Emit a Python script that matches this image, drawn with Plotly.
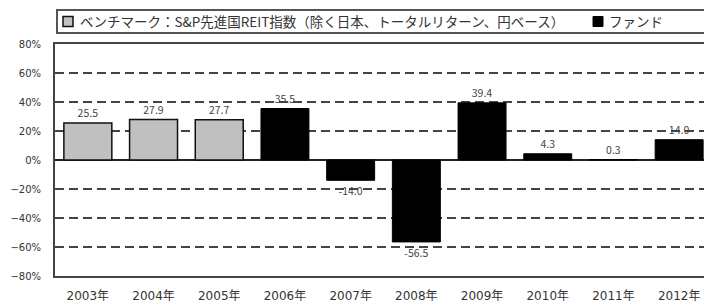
import plotly.graph_objects as go

years = ["2003年", "2004年", "2005年", "2006年", "2007年", "2008年", "2009年", "2010年", "2011年", "2012年"]
bench_years = ["2003年", "2004年", "2005年"]
bench_vals = [25.5, 27.9, 27.7]
fund_years = ["2006年", "2007年", "2008年", "2009年", "2010年", "2011年", "2012年"]
fund_vals = [35.5, -14.0, -56.5, 39.4, 4.3, 0.3, 14.0]
bench_name = "ベンチマーク：S&P先進国REIT指数（除く日本、トータルリターン、円ベース）"
fund_name = "ファンド"

FONT = "Noto Sans CJK JP, Noto Sans, sans-serif"
WIDE = "DejaVu Sans, Noto Sans CJK JP, sans-serif"

fig = go.Figure()
fig.add_trace(go.Bar(
    x=bench_years, y=bench_vals, name=bench_name,
    marker=dict(color="#c0c0c0", line=dict(color="#111111", width=1.5)),
    width=0.73, text=[f"{v:.1f}" for v in bench_vals], textposition="outside",
    textfont=dict(size=10.5, color="#444444"), cliponaxis=False,
))
fig.add_trace(go.Bar(
    x=fund_years, y=fund_vals, name=fund_name,
    marker=dict(color="#000000", line=dict(color="#000000", width=1)),
    width=0.73, text=[f"{v:.1f}" for v in fund_vals], textposition="outside",
    textfont=dict(size=10.5, color="#444444"), cliponaxis=False,
))

# The page body has an 8px default margin; the figure is sized so that the
# plot area lands at screen x 55..712, y 44..276.
PW = 657.0
PH = 232.0
def px_x(px):
    return (px - 55) / PW
def px_y(py):
    return (276 - py) / PH

fig.update_layout(
    width=704, height=294,
    margin=dict(l=47, r=0, t=36, b=26, autoexpand=False),
    paper_bgcolor="white", plot_bgcolor="white",
    barmode="overlay",
    font=dict(family=FONT, size=10, color="#333333"),
    showlegend=False,
    xaxis=dict(categoryorder="array", categoryarray=years, range=[-0.5, 9.5],
               showline=True, mirror=True, linecolor="#444444", linewidth=2,
               showgrid=False, ticks="", ticklabelstandoff=8,
               tickfont=dict(family=WIDE, size=12, color="#333333")),
    yaxis=dict(range=[-80, 80], dtick=20, ticksuffix="%",
               showline=True, linecolor="#444444", linewidth=2,
               showgrid=True, gridcolor="#444444", gridwidth=1.5, griddash="9px,5px",
               zeroline=True, zerolinecolor="#222222", zerolinewidth=1.5,
               ticks="", ticklabelstandoff=10,
               tickfont=dict(family=WIDE, size=10, color="#333333")),
    shapes=[
        dict(type="rect", xref="paper", yref="paper", x0=px_x(57), x1=px_x(720), y0=px_y(33), y1=px_y(10),
             line=dict(color="#555555", width=2), fillcolor="rgba(0,0,0,0)", layer="below"),
        dict(type="rect", xref="paper", yref="paper", x0=px_x(63), x1=px_x(73), y0=px_y(26.5), y1=px_y(16.5),
             line=dict(color="#111111", width=1.5), fillcolor="#c0c0c0"),
        dict(type="rect", xref="paper", yref="paper", x0=px_x(593), x1=px_x(603), y0=px_y(26.5), y1=px_y(16.5),
             line=dict(color="#000000", width=1), fillcolor="#000000"),
    ],
    annotations=[
        dict(xref="paper", yref="paper", x=px_x(78), y=px_y(21.5), xanchor="left", yanchor="middle",
             text=bench_name, showarrow=False, font=dict(size=13.5, color="#333333")),
        dict(xref="paper", yref="paper", x=px_x(607), y=px_y(21.5), xanchor="left", yanchor="middle",
             text=fund_name, showarrow=False, font=dict(size=13.5, color="#333333")),
    ],
)

fig.write_html("out.html")
